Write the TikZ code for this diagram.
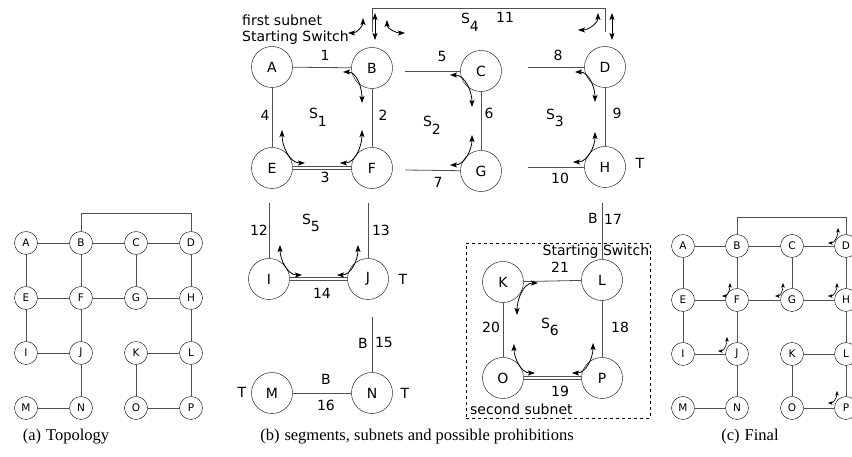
\documentclass[tikz,border=0pt]{standalone}
\usepackage{fontspec}
\setmainfont{DejaVu Sans}
\newfontfamily\capfont{Liberation Serif}
\usetikzlibrary{arrows.meta,positioning}
\definecolor{linkGray}{RGB}{80,80,80}
\newcommand{\subidx}[1]{\raisebox{-0.55em}{#1}}
\tikzset{
  bignode/.style={draw, circle, thin, minimum size=41pt, inner sep=0pt,
    font=\fontsize{14}{16}\selectfont},
  smallnode/.style={draw, circle, thin, minimum size=23pt, inner sep=0pt,
    font=\fontsize{10.5}{12}\selectfont},
  link/.style={draw=linkGray, line width=0.8pt},
  thinlink/.style={draw=linkGray, line width=0.7pt},
  prohib/.style={{Stealth[length=7pt,width=5pt,inset=1.5pt]}-{Stealth[length=7pt,width=5pt,inset=1.5pt]}, line width=0.8pt},
  smallprohib/.style={{Stealth[length=4.5pt,width=3.5pt,inset=1pt]}-{Stealth[length=4.5pt,width=3.5pt,inset=1pt]}, line width=0.6pt},
  lbl/.style={inner sep=0pt, font=\fontsize{14}{16}\selectfont},
  captext/.style={inner sep=0pt, font=\capfont\fontsize{16.5}{18}\selectfont}
}

\begin{document}
\begin{tikzpicture}[x=1pt,y=1pt]
  \useasboundingbox (0,0) rectangle (852,457);
  \clip (0,0) rectangle (852,457);

  % (a) topology
  \node[smallnode] (aA) at (26,214) {A};  \node[smallnode] (aB) at (81,214) {B};
  \node[smallnode] (aC) at (136,214) {C}; \node[smallnode] (aD) at (191,214) {D};
  \node[smallnode] (aE) at (26,159) {E};  \node[smallnode] (aF) at (81,159) {F};
  \node[smallnode] (aG) at (136,159) {G}; \node[smallnode] (aH) at (191,159) {H};
  \node[smallnode] (aI) at (26,104) {I};  \node[smallnode] (aJ) at (81,104) {J};
  \node[smallnode] (aK) at (136,104) {K}; \node[smallnode] (aL) at (191,104) {L};
  \node[smallnode] (aM) at (26,49) {M};   \node[smallnode] (aN) at (81,49) {N};
  \node[smallnode] (aO) at (136,49) {O};  \node[smallnode] (aP) at (191,49) {P};
  \draw[link] (aA) -- (aB) -- (aC) -- (aD);
  \draw[link] (aE) -- (aF) -- (aG) -- (aH);
  \draw[link] (aI) -- (aJ);  \draw[link] (aK) -- (aL);
  \draw[link] (aM) -- (aN);  \draw[link] (aO) -- (aP);
  \draw[link] (aA) -- (aE) -- (aI);
  \draw[link] (aB) -- (aF) -- (aJ) -- (aN);
  \draw[link] (aC) -- (aG);
  \draw[link] (aD) -- (aH) -- (aL) -- (aP);
  \draw[link] (aK) -- (aO);
  \draw[link] (aB.north) -- ++(0,17.5) -| (aD.north);

  % (b) segments and subnets
  \node[bignode] (A) at (272,390) {A};
  \node[bignode] (B) at (372,389) {B};
  \node[bignode] (C) at (481,386) {C};
  \node[bignode] (D) at (605,390) {D};
  \node[bignode] (E) at (272,289) {E};
  \node[bignode] (F) at (372,289) {F};
  \node[bignode] (G) at (481,286) {G};
  \node[bignode] (H) at (605,290) {H};
  \node[bignode] (I) at (269,178) {I};
  \node[bignode] (J) at (368,178) {J};
  \node[bignode] (M) at (272,64) {M};
  \node[bignode] (N) at (372,64) {N};
  \node[bignode] (K) at (503,175) {K};
  \node[bignode] (L) at (602,177) {L};
  \node[bignode] (O) at (503,79) {O};
  \node[bignode] (P) at (602,79) {P};
  \coordinate (s5) at (405,386);
  \coordinate (s7) at (405,287);
  \coordinate (s8) at (528,390);
  \coordinate (s10) at (528,290);
  \coordinate (s11a) at (372,425);
  \coordinate (s11b) at (605,425);
  \coordinate (s12) at (269,254);
  \coordinate (s13) at (368,254);
  \coordinate (s15) at (372,140);
  \coordinate (s17) at (602,254);
  \draw[link] (A) -- (B);
  \draw[link] (A) -- (E);
  \draw[link] (B) -- (F);
  \draw[thinlink] ([yshift=1.2pt]E.east) -- ([yshift=1.2pt]F.west);
  \draw[thinlink] ([yshift=-1.2pt]E.east) -- ([yshift=-1.2pt]F.west);
  \draw[link] (s5) -- (C);
  \draw[link] (s7) -- (G);
  \draw[link] (C) -- (G);
  \draw[link] (s8) -- (D);
  \draw[link] (s10) -- (H);
  \draw[link] (D) -- (H);
  \draw[link] (s11a) -- ++(0,24) -| (s11b);
  \draw[link] (s12) -- (I);
  \draw[link] (s13) -- (J);
  \draw[thinlink] ([yshift=1.2pt]I.east) -- ([yshift=1.2pt]J.west);
  \draw[thinlink] ([yshift=-1.2pt]I.east) -- ([yshift=-1.2pt]J.west);
  \draw[link] (s15) -- (N);
  \draw[link] (M) -- (N);
  \draw[link] (s17) -- (L);
  \draw[link] (K) -- (L);
  \draw[link] (K) -- (O);
  \draw[link] (L) -- (P);
  \draw[thinlink] ([yshift=1.2pt]O.east) -- ([yshift=1.2pt]P.west);
  \draw[thinlink] ([yshift=-1.2pt]O.east) -- ([yshift=-1.2pt]P.west);
  \node[draw, dashed, thin, minimum width=184pt, minimum height=175pt, inner sep=0pt]
    (subnet2) at (558,126.5) {};

  % segment numbers
  \node[lbl] (n1) at (325,402) {1};
  \node[lbl] (n2) at (383,342) {2};
  \node[lbl] (n3) at (325,280) {3};
  \node[lbl] (n4) at (265,342) {4};
  \node[lbl] (n5) at (442,400) {5};
  \node[lbl] (n6) at (489,344) {6};
  \node[lbl] (n7) at (438,275) {7};
  \node[lbl] (n8) at (558,402) {8};
  \node[lbl] (n9) at (617,344) {9};
  \node[lbl] (n10) at (560,279) {10};
  \node[lbl] (n11) at (505,440) {11};
  \node[lbl] (n12) at (259,227) {12};
  \node[lbl] (n13) at (381,227) {13};
  \node[lbl] (n14) at (322,164) {14};
  \node[lbl] (n15) at (384,114) {15};
  \node[lbl] (n16) at (326,52) {16};
  \node[lbl] (n17) at (613,238) {17};
  \node[lbl] (n18) at (620,130) {18};
  \node[lbl] (n19) at (560,66) {19};
  \node[lbl] (n20) at (491,130) {20};
  \node[lbl] (n21) at (560,190) {21};

  % subnet names
  \node[lbl] (S1) at (318,340) {S\subidx{1}};
  \node[lbl] (S2) at (432,332) {S\subidx{2}};
  \node[lbl] (S3) at (555,339) {S\subidx{3}};
  \node[lbl] (S4) at (470,435) {S\subidx{4}};
  \node[lbl] (S5) at (311,234) {S\subidx{5}};
  \node[lbl] (S6) at (550,130) {S\subidx{6}};

  % T and B marks
  \node[lbl] (tH) at (640,294) {T};
  \node[lbl] (tJ) at (403,178) {T};
  \node[lbl] (tM) at (242,65) {T};
  \node[lbl] (tN) at (405,64) {T};
  \node[lbl] (b15) at (363,114) {B};
  \node[lbl] (b16) at (326,78) {B};
  \node[lbl] (b17) at (593,239) {B};

  % starting switches
  \node[lbl, anchor=west] (first) at (242,437) {first subnet};
  \node[lbl, anchor=west] (start1) at (242,419) {Starting Switch};
  \node[lbl] (start2) at (596,205) {Starting Switch};
  \node[lbl, anchor=west] (second) at (470,48) {second subnet};

  % possible prohibitions
  \draw[prohib] (348,424) to[out=0,in=-90] (363,439);
  \draw[prohib] (375,444) -- (375,417);
  \draw[prohib] (387,437) to[out=-90,in=180] (405,424);
  \draw[prohib] (578,427) to[out=0,in=-90] (598,444);
  \draw[prohib] (612,444) -- (612,417);
  \draw[prohib] (343,385) to[out=0,in=90] (362,354);
  \draw[prohib] (450,382) to[out=0,in=90] (472,350);
  \draw[prohib] (575,385) to[out=0,in=90] (595,355);
  \draw[prohib] (282,327) to[out=-90,in=180] (305,294);
  \draw[prohib] (362,327) to[out=-90,in=0] (340,294);
  \draw[prohib] (472,322) to[out=-90,in=0] (450,292);
  \draw[prohib] (595,325) to[out=-90,in=0] (573,295);
  \draw[prohib] (280,212) to[out=-90,in=180] (302,182);
  \draw[prohib] (358,212) to[out=-90,in=0] (337,182);
  \draw[prohib] (538,174) to[out=180,in=90] (517,142);
  \draw[prohib] (514,113) to[out=-90,in=180] (535,84);
  \draw[prohib] (593,114) to[out=-90,in=0] (572,84);

  % (c) final
  \node[smallnode] (cA) at (683,211) {A};  \node[smallnode] (cB) at (737,211) {B};
  \node[smallnode] (cC) at (792,211) {C};  \node[smallnode] (cD) at (846,211) {D};
  \node[smallnode] (cE) at (683,157) {E};  \node[smallnode] (cF) at (737,157) {F};
  \node[smallnode] (cG) at (792,157) {G};  \node[smallnode] (cH) at (846,157) {H};
  \node[smallnode] (cI) at (683,103) {I};  \node[smallnode] (cJ) at (737,103) {J};
  \node[smallnode] (cK) at (792,103) {K};  \node[smallnode] (cL) at (846,103) {L};
  \node[smallnode] (cM) at (683,49) {M};   \node[smallnode] (cN) at (737,49) {N};
  \node[smallnode] (cO) at (792,49) {O};   \node[smallnode] (cP) at (846,49) {P};
  \draw[link] (cA) -- (cB) -- (cC) -- (cD);
  \draw[link] (cE) -- (cF) -- (cG) -- (cH);
  \draw[link] (cI) -- (cJ);  \draw[link] (cK) -- (cL);
  \draw[link] (cM) -- (cN);  \draw[link] (cO) -- (cP);
  \draw[link] (cA) -- (cE) -- (cI);
  \draw[link] (cB) -- (cF) -- (cJ) -- (cN);
  \draw[link] (cC) -- (cG);
  \draw[link] (cD) -- (cH) -- (cL) -- (cP);
  \draw[link] (cK) -- (cO);
  \draw[link] (cB.north) -- ++(0,16.5) -| (cD.north);
  \draw[smallprohib] (828,214) to[out=0,in=-90] (838,229);
  \draw[smallprohib] (722,161) to[out=0,in=-90] (730,174);
  \draw[smallprohib] (775,161) to[out=0,in=-90] (783,174);
  \draw[smallprohib] (828,161) to[out=0,in=-90] (837,174);
  \draw[smallprohib] (718,106) to[out=0,in=-90] (727,120);
  \draw[smallprohib] (828,54) to[out=0,in=-90] (837,66);

  % captions
  \node[captext] (capa) at (66,20) {(a)\hspace{0.3em}Topology};
  \node[captext] (capb) at (417,20) {(b)\hspace{0.3em}segments, subnets and possible prohibitions};
  \node[captext] (capc) at (750,20) {(c)\hspace{0.3em}Final};
\end{tikzpicture}
\end{document}
